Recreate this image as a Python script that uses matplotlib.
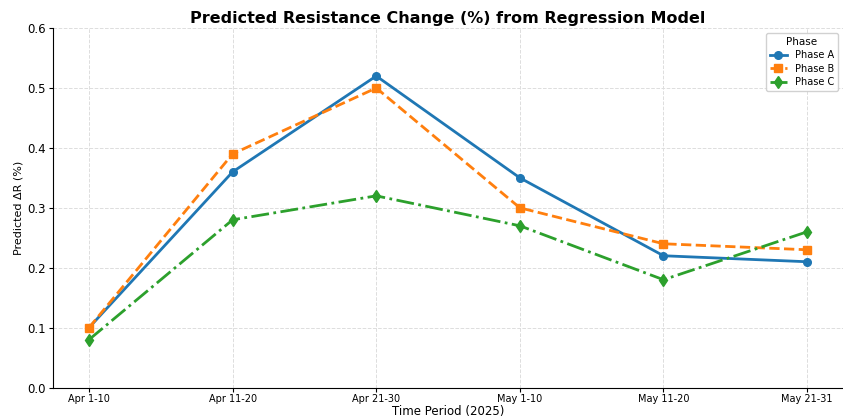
import matplotlib
matplotlib.use("Agg")
import matplotlib.pyplot as plt

periods = ["Apr 1-10", "Apr 11-20", "Apr 21-30", "May 1-10", "May 11-20", "May 21-31"]
phase_a = [0.10, 0.36, 0.52, 0.35, 0.22, 0.21]
phase_b = [0.10, 0.39, 0.50, 0.30, 0.24, 0.23]
phase_c = [0.08, 0.28, 0.32, 0.27, 0.18, 0.26]
series_names = ["Phase A", "Phase B", "Phase C"]

fig = plt.figure(figsize=(8.43, 4.19), dpi=100)
ax = fig.add_axes([0.063, 0.075, 0.937, 0.858])

x = list(range(len(periods)))
ax.plot(x, phase_a, color="#1f77b4", linestyle="-", marker="o", linewidth=2, markersize=5.5, label=series_names[0])
ax.plot(x, phase_b, color="#ff7f0e", linestyle="--", marker="s", linewidth=2, markersize=5.5, label=series_names[1])
ax.plot(x, phase_c, color="#2ca02c", linestyle="-.", marker="d", linewidth=2, markersize=6, label=series_names[2])

ax.set_xticks(x)
ax.set_xticklabels(periods, fontsize=7)
ax.set_ylim(0, 0.6)
ax.set_yticks([0.0, 0.1, 0.2, 0.3, 0.4, 0.5, 0.6])
ax.tick_params(axis="y", labelsize=8.5, length=3, pad=2)
ax.tick_params(axis="x", length=3, pad=1.5)
ax.set_xlim(-0.25, 5.25)
ax.grid(True, linestyle="--", color="#dddddd", linewidth=0.7)
for s in ["top", "right"]:
    ax.spines[s].set_visible(False)
ax.set_title("Predicted Resistance Change (%) from Regression Model", fontsize=11.5, fontweight="bold", pad=4)
ax.set_xlabel("Time Period (2025)", fontsize=8.5, labelpad=1)
ax.set_ylabel("Predicted ΔR (%)", fontsize=8, labelpad=3)
leg = ax.legend(title="Phase", fontsize=7, title_fontsize=7.5, loc="upper right",
                bbox_to_anchor=(1.0, 1.0), handlelength=1.8, framealpha=0.9,
                labelspacing=0.35)

fig.savefig("out.png", dpi=100)
